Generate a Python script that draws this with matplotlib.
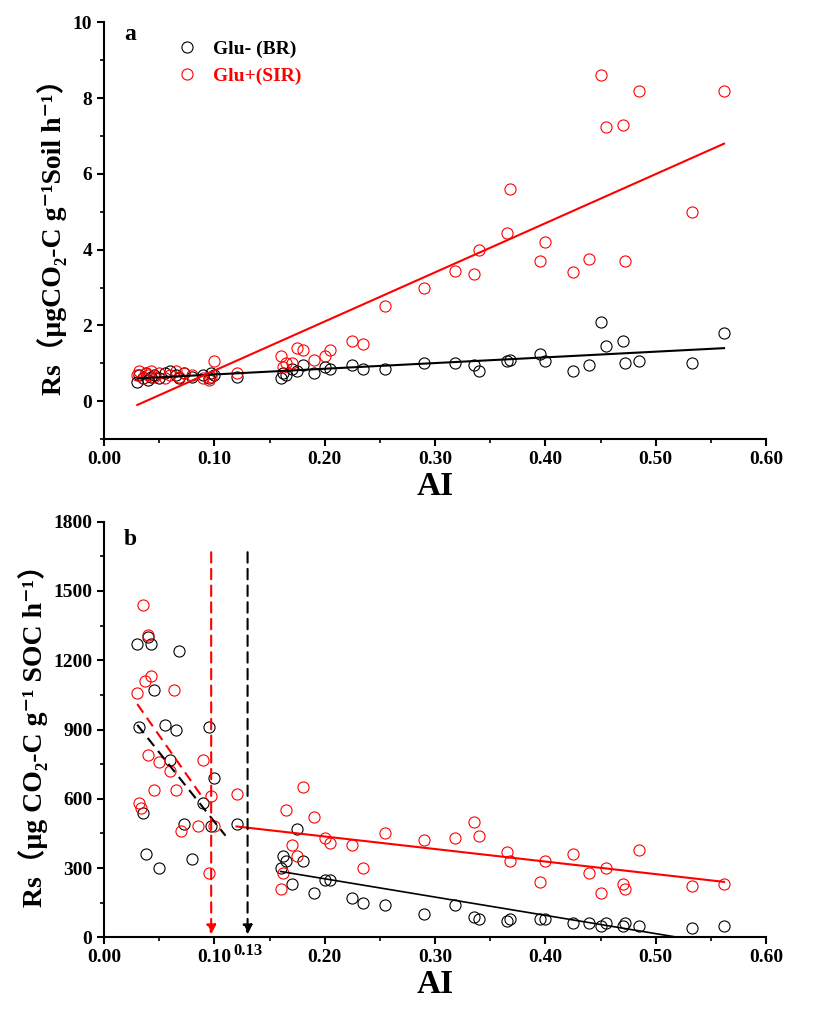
import matplotlib
matplotlib.use("Agg")
import matplotlib.pyplot as plt
import numpy as np

FAM = ['Liberation Serif', 'Noto Sans CJK SC', 'DejaVu Serif']
plt.rcParams['font.family'] = FAM
plt.rcParams['font.weight'] = 'bold'

# Panel a
ai_a = [0.03,0.032,0.035,0.038,0.04,0.042,0.045,0.05,0.055,0.06,0.065,0.068,0.072,0.08,0.09,0.095,0.097,0.1,0.12,0.16,0.162,0.165,0.17,0.175,0.18,0.19,0.2,0.205,0.225,0.235,0.255,0.29,0.318,0.335,0.34,0.365,0.368,0.395,0.4,0.425,0.44,0.45,0.455,0.47,0.472,0.485,0.533,0.562]
br_a = [0.5,0.7,0.6,0.75,0.55,0.65,0.7,0.6,0.75,0.8,0.7,0.6,0.75,0.65,0.7,0.6,0.75,0.7,0.65,0.6,0.75,0.7,0.85,0.8,0.95,0.75,0.9,0.85,0.95,0.85,0.85,1.0,1.0,0.95,0.8,1.05,1.1,1.25,1.05,0.8,0.95,2.1,1.45,1.6,1.0,1.05,1.0,1.8]
sir_a = [0.7,0.8,0.6,0.75,0.7,0.8,0.65,0.75,0.6,0.7,0.8,0.65,0.75,0.7,0.6,0.55,0.65,1.05,0.75,1.2,0.9,1.0,1.0,1.4,1.35,1.1,1.2,1.35,1.6,1.5,2.5,3.0,3.45,3.35,4.0,4.45,5.6,3.7,4.2,3.4,3.75,8.6,7.25,7.3,3.7,8.2,5.0,8.2]
line_a_x = [0.03, 0.562]
line_a_br = [0.6, 1.4]
line_a_sir = [-0.1, 6.8]

# Panel b
ai_b = ai_a
br_b = [1270,910,540,360,1300,1270,1070,300,920,770,900,1240,490,340,580,910,480,690,490,300,350,330,230,470,330,190,250,250,170,150,140,100,140,90,80,70,80,80,80,60,60,50,60,50,60,50,40,50]
ai_b_red = [0.03,0.032,0.033,0.035,0.037,0.04,0.042,0.04,0.045,0.05,0.06,0.063,0.065,0.07,0.085,0.09,0.095,0.097,0.1,0.12,0.16,0.162,0.165,0.17,0.175,0.18,0.19,0.2,0.205,0.225,0.235,0.255,0.29,0.318,0.335,0.34,0.365,0.368,0.395,0.4,0.425,0.44,0.45,0.455,0.47,0.472,0.485,0.533,0.562]
sir_b = [1060,580,560,1440,1110,1310,1130,790,640,760,720,1070,640,460,480,770,280,610,480,620,210,280,550,400,350,650,520,430,410,400,300,450,420,430,500,440,370,330,240,330,360,280,190,300,230,210,380,220,230]
bd_x = [0.03, 0.11]; bd_y = [920, 440]
rd_x = [0.03, 0.09]; rd_y = [1010, 600]
rs_x = [0.12, 0.562]; rs_y = [480, 240]
bs_x = [0.16, 0.52]; bs_y = [285, 0]
thr_red = 0.097
thr_black = 0.13

fig = plt.figure(figsize=(8.14, 10.21), dpi=100)
ax1 = fig.add_axes([0.128, 0.570, 0.813, 0.408])
ax2 = fig.add_axes([0.128, 0.082, 0.813, 0.407])

for ax in (ax1, ax2):
    for s in ('top', 'right'):
        ax.spines[s].set_visible(False)
    for s in ('left', 'bottom'):
        ax.spines[s].set_linewidth(1.5)
    ax.tick_params(direction='out', width=1.5, length=5, labelsize=14)
    ax.set_xlim(0, 0.6)
    ax.set_xticks(np.arange(0, 0.61, 0.1))
    ax.set_xticks(np.arange(0.05, 0.6, 0.1), minor=True)
    ax.tick_params(which='minor', direction='out', width=1.2, length=3)
    ax.xaxis.set_major_formatter(matplotlib.ticker.FormatStrFormatter('%.2f'))

ms = 8
ax1.plot(ai_a, br_a, 'o', mfc='none', mec='black', ms=ms, mew=0.8, label='Glu- (BR)')
ax1.plot(ai_a, sir_a, 'o', mfc='none', mec='red', ms=ms, mew=0.8, label='Glu+(SIR)')
ax1.plot(line_a_x, line_a_br, color='black', lw=1.5)
ax1.plot(line_a_x, line_a_sir, color='red', lw=1.5)
ax1.set_ylim(-1, 10)
ax1.set_yticks(range(0, 11, 2))
ax1.set_yticks(range(-1, 10, 2), minor=True)
ax1.tick_params(axis='y', which='minor', direction='out', width=1.2, length=3)
ax1.set_xlabel('AI', fontsize=24, fontweight='bold', labelpad=2)
ax1.set_ylabel('Rs（μgCO₂-C g⁻¹Soil h⁻¹）', fontsize=20, fontweight='bold')
ax1.text(0.018, 9.55, 'a', fontsize=17, fontweight='bold')
leg = ax1.legend(loc='upper left', bbox_to_anchor=(0.07, 1.0), frameon=False, prop={'size': 14, 'weight': 'bold'}, handletextpad=0.3)
leg.get_texts()[1].set_color('red')

ax2.plot(ai_b, br_b, 'o', mfc='none', mec='black', ms=ms, mew=0.8)
ax2.plot(ai_b_red, sir_b, 'o', mfc='none', mec='red', ms=ms, mew=0.8)
ax2.plot(bd_x, bd_y, color='black', lw=1.5, ls=(0, (5, 3)))
ax2.plot(rd_x, rd_y, color='red', lw=1.5, ls=(0, (5, 3)))
ax2.plot(rs_x, rs_y, color='red', lw=1.5)
ax2.plot(bs_x, bs_y, color='black', lw=1.2)
for xv, c in ((thr_red, 'red'), (thr_black, 'black')):
    ax2.annotate('', xy=(xv, 0), xytext=(xv, 1680),
                 arrowprops=dict(arrowstyle='-|>', color=c, lw=1.5, ls=(0, (5, 3)), mutation_scale=14))
ax2.text(thr_black, -25, '0.13', ha='center', va='top', fontsize=12, fontweight='bold')
ax2.set_ylim(0, 1800)
ax2.set_yticks(range(0, 1801, 300))
ax2.set_yticks(range(150, 1800, 300), minor=True)
ax2.tick_params(axis='y', which='minor', direction='out', width=1.2, length=3)
ax2.set_xlabel('AI', fontsize=24, fontweight='bold', labelpad=2)
ax2.set_ylabel('Rs（μg CO₂-C g⁻¹ SOC h⁻¹）', fontsize=20, fontweight='bold')
ax2.text(0.018, 1700, 'b', fontsize=17, fontweight='bold')

fig.savefig('out.png', dpi=100)
